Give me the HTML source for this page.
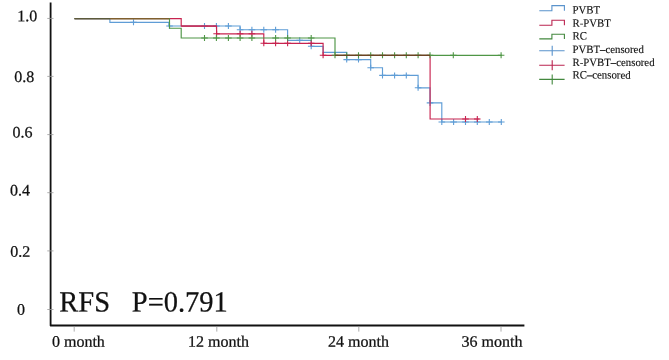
<!DOCTYPE html>
<html><head><meta charset="utf-8"><title>RFS</title>
<style>html,body{margin:0;padding:0;background:#fff}svg{display:block}</style></head>
<body><div style="will-change:transform;width:669px;height:360px"><svg width="669" height="360" viewBox="0 0 669 360">
<rect width="669" height="360" fill="#fff"/>
<path d="M74.5,18.6 L109.9,18.6 L109.9,22.4 L168.9,22.4 L168.9,26.0 L240.1,26.0 L240.1,29.7 L287.6,29.7 L287.6,40.3 L311.2,40.3 L311.2,46.3 L323.1,46.3 L323.1,52.3 L346.7,52.3 L346.7,59.6 L370.7,59.6 L370.7,67.7 L382.5,67.7 L382.5,75.4 L418.1,75.4 L418.1,87.8 L430.0,87.8 L430.0,102.9 L441.8,102.9 L441.8,122.0 L501.8,122.0" stroke="#5f9dd6" stroke-width="1.15" fill="none" stroke-linejoin="miter"/>
<path d="M130.2,22.2h6.6M133.5,19.2v6.0M166.2,26.0h6.6M169.5,23.0v6.0M201.2,26.0h6.6M204.5,23.0v6.0M213.1,26.0h6.6M216.4,23.0v6.0M225.1,26.0h6.6M228.4,23.0v6.0M236.8,29.7h6.6M240.1,26.7v6.0M248.6,29.7h6.6M251.9,26.7v6.0M260.5,29.7h6.6M263.8,26.7v6.0M272.3,29.7h6.6M275.6,26.7v6.0M296.4,40.3h6.6M299.7,37.3v6.0M307.9,46.3h6.6M311.2,43.3v6.0M343.4,59.6h6.6M346.7,56.6v6.0M355.2,59.6h6.6M358.5,56.6v6.0M367.4,67.7h6.6M370.7,64.7v6.0M379.2,75.4h6.6M382.5,72.4v6.0M391.3,75.4h6.6M394.6,72.4v6.0M403.0,75.4h6.6M406.3,72.4v6.0M414.8,87.8h6.6M418.1,84.8v6.0M426.7,102.9h6.6M430.0,99.9v6.0M438.5,122.0h6.6M441.8,119.0v6.0M450.3,122.0h6.6M453.6,119.0v6.0M462.2,122.0h6.6M465.5,119.0v6.0M474.0,122.0h6.6M477.3,119.0v6.0M486.0,122.0h6.6M489.3,119.0v6.0M498.0,122.0h6.6M501.3,119.0v6.0" stroke="#5f9dd6" stroke-width="1.1" fill="none"/>
<path d="M74.5,18.6 L181.2,18.6 L181.2,26.0 L216.6,26.0 L216.6,33.8 L263.8,33.8 L263.8,43.3 L323.1,43.3 L323.1,55.3 L430.1,55.3 L430.1,119.0 L479.5,119.0" stroke="#c8234f" stroke-width="1.15" fill="none"/>
<path d="M213.3,33.8h6.6M216.6,30.8v6.0M236.8,33.8h6.6M240.1,30.8v6.0M248.6,33.8h6.6M251.9,30.8v6.0M260.5,43.3h6.6M263.8,40.3v6.0M272.3,43.3h6.6M275.6,40.3v6.0M284.3,43.3h6.6M287.6,40.3v6.0M307.9,43.3h6.6M311.2,40.3v6.0M319.8,55.3h6.6M323.1,52.3v6.0M462.2,119.0h6.6M465.5,116.0v6.0M474.0,119.0h6.6M477.3,116.0v6.0" stroke="#c8234f" stroke-width="1.1" fill="none"/>
<path d="M74.5,18.6 L169.5,18.6 L169.5,28.2 L181.2,28.2 L181.2,38.0 L335.0,38.0 L335.0,55.3 L501.8,55.3" stroke="#4f9646" stroke-width="1.15" fill="none"/>
<path d="M201.2,38.0h6.6M204.5,35.0v6.0M213.1,38.0h6.6M216.4,35.0v6.0M225.1,38.0h6.6M228.4,35.0v6.0M236.8,38.0h6.6M240.1,35.0v6.0M248.6,38.0h6.6M251.9,35.0v6.0M272.3,38.0h6.6M275.6,35.0v6.0M284.3,38.0h6.6M287.6,35.0v6.0M307.9,38.0h6.6M311.2,35.0v6.0M331.7,55.3h6.6M335.0,52.3v6.0M343.4,55.3h6.6M346.7,52.3v6.0M355.2,55.3h6.6M358.5,52.3v6.0M367.4,55.3h6.6M370.7,52.3v6.0M379.2,55.3h6.6M382.5,52.3v6.0M391.3,55.3h6.6M394.6,52.3v6.0M403.0,55.3h6.6M406.3,52.3v6.0M414.8,55.3h6.6M418.1,52.3v6.0M426.7,55.3h6.6M430.0,52.3v6.0M450.0,55.3h6.6M453.3,52.3v6.0M497.8,55.3h6.6M501.1,52.3v6.0" stroke="#4f9646" stroke-width="1.1" fill="none"/>
<path d="M74.5,18.55H109.9" stroke="#5c5a3c" stroke-width="1.35" fill="none"/>
<path d="M109.9,18.55H169.5" stroke="#80602f" stroke-width="1.3" fill="none"/>
<path d="M335,55.3H430" stroke="#6b4423" stroke-width="1.3" fill="none"/>
<path d="M181.2,26.0H216.6" stroke="#c8234f" stroke-width="1.25" fill="none"/>
<path d="M50.6,2.5V325.5H524.4" stroke="#111" stroke-width="1.8" fill="none" stroke-linejoin="round"/>
<path d="M47.3,18.45h6.2M47.3,76.4h6.2M47.3,134.6h6.2M47.3,192.7h6.2M47.3,250.9h6.2M47.3,309.5h6.2M74.2,326.5v5.1M216.8,326.5v5.1M358.8,326.5v5.1M501,326.5v5.1" stroke="#999" stroke-width="0.8" fill="none"/>
<text x="17.2" y="21.35" transform="rotate(0.03 17.2 21.35)" font-size="16" font-family="Liberation Serif, serif" fill="#111" stroke="#111" stroke-width="0.25">1.0</text>
<text x="14.2" y="82" transform="rotate(0.03 14.2 82)" font-size="16" font-family="Liberation Serif, serif" fill="#111" stroke="#111" stroke-width="0.25">0.8</text>
<text x="12.5" y="137.5" transform="rotate(0.03 12.5 137.5)" font-size="16" font-family="Liberation Serif, serif" fill="#111" stroke="#111" stroke-width="0.25">0.6</text>
<text x="10.05" y="195.4" transform="rotate(0.03 10.05 195.4)" font-size="16" font-family="Liberation Serif, serif" fill="#111" stroke="#111" stroke-width="0.25">0.4</text>
<text x="10.2" y="256.65" transform="rotate(0.03 10.2 256.65)" font-size="16" font-family="Liberation Serif, serif" fill="#111" stroke="#111" stroke-width="0.25">0.2</text>
<text x="16.9" y="314.7" transform="rotate(0.03 16.9 314.7)" font-size="16" font-family="Liberation Serif, serif" fill="#111" stroke="#111" stroke-width="0.25">0</text>
<text x="51.9" y="346.7" transform="rotate(0.03 51.9 346.7)" font-size="16.05" font-family="Liberation Serif, serif" fill="#111" stroke="#111" stroke-width="0.25">0 month</text>
<text x="188.0" y="346.7" transform="rotate(0.03 188.0 346.7)" font-size="16.05" font-family="Liberation Serif, serif" fill="#111" stroke="#111" stroke-width="0.25">12 month</text>
<text x="327.9" y="346.7" transform="rotate(0.03 327.9 346.7)" font-size="16.05" font-family="Liberation Serif, serif" fill="#111" stroke="#111" stroke-width="0.25">24 month</text>
<text x="461.4" y="346.7" transform="rotate(0.03 461.4 346.7)" font-size="16.05" font-family="Liberation Serif, serif" fill="#111" stroke="#111" stroke-width="0.25">36 month</text>
<text transform="translate(59.3 311.5) rotate(0.03) scale(1 1.03)" font-size="28.5" font-family="Liberation Serif, serif" fill="#111" stroke="#111" stroke-width="0.25">RFS</text>
<text transform="translate(131.8 311.5) rotate(0.03) scale(1 1.03)" font-size="28.5" font-family="Liberation Serif, serif" fill="#111" stroke="#111" stroke-width="0.25">P=0.791</text>
<path d="M539.3,10.7H551.9V5.6H564.4V10.7" stroke="#5a93cc" stroke-width="1.1" fill="none"/>
<path d="M539.3,25.2H551.9V20.2H564.4V25.2" stroke="#bb2550" stroke-width="1.1" fill="none"/>
<path d="M539.3,38.9H551.9V34.3H564.4V38.9" stroke="#43883e" stroke-width="1.1" fill="none"/>
<path d="M539.2,50.8H564.6M552.2,45.8V55.8" stroke="#5a93cc" stroke-width="1.1" fill="none"/>
<path d="M539.2,65.2H564.6M552.2,60.2V70.2" stroke="#bb2550" stroke-width="1.1" fill="none"/>
<path d="M539.2,79.4H564.6M552.2,74.4V84.4" stroke="#43883e" stroke-width="1.1" fill="none"/>
<text transform="translate(572.5 13.6) rotate(0.03) scale(1 1.04)" font-size="10.8" font-family="Liberation Serif, serif" fill="#111" stroke="#111" stroke-width="0.12">PVBT</text>
<text transform="translate(572.5 26.8) rotate(0.03) scale(1 1.04)" font-size="10.8" font-family="Liberation Serif, serif" fill="#111" stroke="#111" stroke-width="0.12">R-PVBT</text>
<text transform="translate(572.5 39.6) rotate(0.03) scale(1 1.04)" font-size="10.8" font-family="Liberation Serif, serif" fill="#111" stroke="#111" stroke-width="0.12">RC</text>
<text transform="translate(572.5 52.9) rotate(0.03) scale(1 1.04)" font-size="10.8" font-family="Liberation Serif, serif" fill="#111" stroke="#111" stroke-width="0.12">PVBT–censored</text>
<text transform="translate(572.5 65.9) rotate(0.03) scale(1 1.04)" font-size="10.8" font-family="Liberation Serif, serif" fill="#111" stroke="#111" stroke-width="0.12">R-PVBT–censored</text>
<text transform="translate(572.5 78.6) rotate(0.03) scale(1 1.04)" font-size="10.8" font-family="Liberation Serif, serif" fill="#111" stroke="#111" stroke-width="0.12">RC–censored</text>
</svg></div></body></html>
